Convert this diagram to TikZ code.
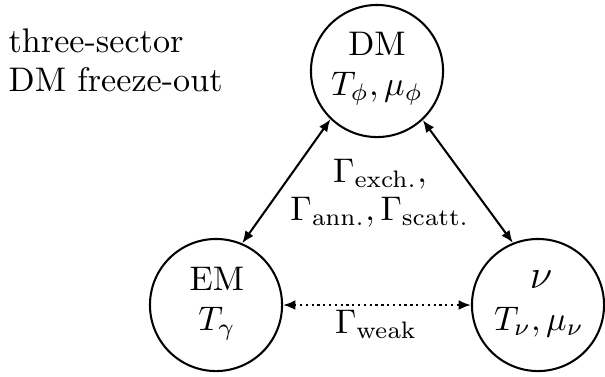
\documentclass[tikz,border=0pt]{standalone}
\usetikzlibrary{arrows.meta}
\begin{document}
\begin{tikzpicture}[x=0.293pt,y=-0.293pt,
  sector/.style={draw,circle,line width=0.6pt,minimum size=38.7pt,inner sep=0pt},
  lbl/.style={anchor=base,inner sep=0pt},
  link/.style={line width=0.6pt,{Latex[length=3.6pt,width=2.9pt]}-{Latex[length=3.6pt,width=2.9pt]}},
  weaklink/.style={line width=0.65pt,dash pattern=on 0.65pt off 1.05pt,{Latex[length=3.6pt,width=2.9pt]}-{Latex[length=3.6pt,width=2.9pt]}}]
\useasboundingbox (0,0) rectangle (605,376);
% circles
\node[sector] (DM) at (377,71) {};
\node[sector] (EM) at (216,305) {};
\node[sector] (NU) at (538,305) {};
% circle texts
\node[lbl] (dmname) at (377,55) {DM};
\node[lbl] (dmvars) at (377,95) {$T_\phi,\mu_\phi$};
\node[lbl] (emname) at (217,290) {EM};
\node[lbl] (emvars) at (217,330) {$T_\gamma$};
\node[lbl] (nuname) at (541,288) {\large $\nu$};
\node[lbl] (nuvars) at (539,330) {$T_\nu,\mu_\nu$};
% side text
\node[lbl,anchor=base west] (t1) at (8,52) {three-sector};
\node[lbl,anchor=base west] (t2) at (8,91) {DM freeze-out};
% rates
\node[lbl] (g1) at (380,182) {$\Gamma_{\mathrm{exch.}},$};
\node[lbl] (g2) at (380,220) {$\Gamma_{\mathrm{ann.}},\Gamma_{\mathrm{scatt.}}$};
\node[lbl] (g3) at (376,333) {$\Gamma_{\mathrm{weak}}$};
% connectors
\draw[link] (DM.226.8) -- (EM.67.4);
\draw[link] (DM.313.2) -- (NU.112.6);
\draw[weaklink] (EM.east) -- (NU.west);
\end{tikzpicture}
\end{document}
